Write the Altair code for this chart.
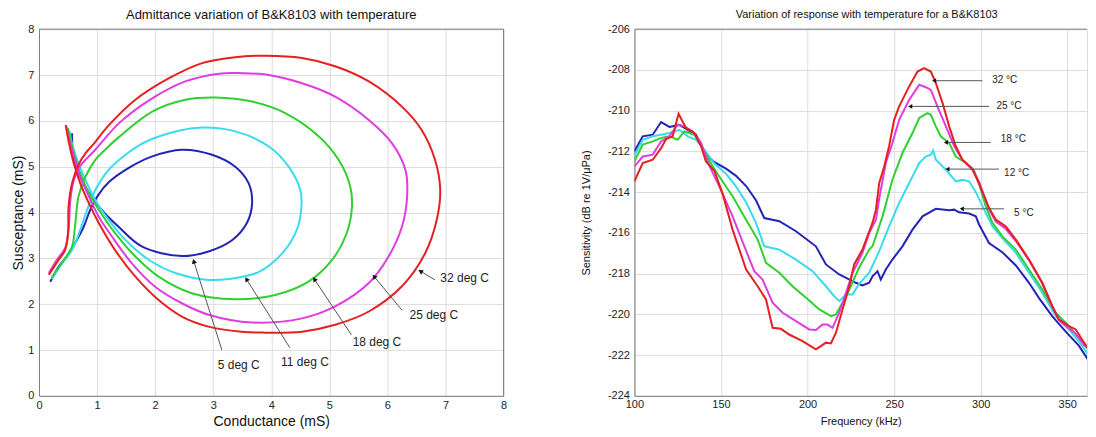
import math
import altair as alt
import pandas as pd

FONT = "Liberation Sans"

# ---------------- Left panel: admittance loops ----------------
left_series = ["5 deg C", "11 deg C", "18 deg C", "25 deg C", "32 deg C"]
left_colors = ["#2323b8", "#38dcef", "#30d030", "#e03ce0", "#e52020"]

g_5 = [0.195, 0.34, 0.48, 0.62, 0.77, 0.88, 1.02, 1.20, 1.54, 1.94, 2.46, 2.98, 3.38, 3.61, 3.67, 3.58, 3.33, 2.92, 2.46, 1.77, 1.37, 1.12, 0.93, 0.78, 0.64, 0.58, 0.57]
b_5 = [2.49, 2.82, 3.04, 3.33, 3.69, 4.05, 4.38, 4.66, 4.97, 5.22, 5.37, 5.26, 5.00, 4.64, 4.20, 3.77, 3.40, 3.15, 3.05, 3.26, 3.69, 4.00, 4.30, 4.60, 5.00, 5.37, 5.73]

g_11 = [0.22, 0.40, 0.57, 0.71, 0.83, 0.97, 1.20, 1.49, 1.80, 2.24, 2.75, 3.38, 3.96, 4.30, 4.50, 4.52, 4.44, 4.19, 3.78, 3.27, 2.92, 2.35, 1.89, 1.49, 1.20, 0.97, 0.80, 0.68, 0.60, 0.55, 0.53]
b_11 = [2.55, 2.89, 3.18, 3.62, 4.06, 4.49, 4.93, 5.26, 5.52, 5.73, 5.85, 5.77, 5.44, 5.00, 4.49, 4.13, 3.62, 3.11, 2.70, 2.55, 2.53, 2.68, 2.97, 3.40, 3.84, 4.27, 4.71, 5.07, 5.37, 5.60, 5.77]

g_18 = [0.22, 0.43, 0.57, 0.62, 0.68, 0.80, 0.97, 1.14, 1.38, 1.95, 2.52, 3.04, 3.67, 4.24, 4.82, 5.16, 5.36, 5.39, 5.30, 5.05, 4.64, 4.07, 3.38, 2.63, 2.06, 1.66, 1.31, 1.03, 0.86, 0.71, 0.62, 0.55, 0.50]
b_18 = [2.59, 2.97, 3.26, 3.69, 4.35, 4.78, 5.15, 5.37, 5.65, 6.20, 6.46, 6.51, 6.42, 6.17, 5.66, 5.15, 4.57, 4.13, 3.55, 2.97, 2.49, 2.20, 2.11, 2.24, 2.60, 3.04, 3.55, 4.06, 4.42, 4.86, 5.22, 5.55, 5.84]

g_25 = [0.17, 0.31, 0.45, 0.51, 0.54, 0.60, 0.70, 0.97, 1.38, 1.95, 2.52, 3.10, 3.50, 3.96, 4.53, 5.10, 5.68, 6.08, 6.31, 6.34, 6.25, 6.02, 5.68, 5.10, 4.53, 3.67, 2.92, 2.46, 2.00, 1.60, 1.26, 1.03, 0.86, 0.71, 0.62, 0.53, 0.47]
b_25 = [2.68, 2.97, 3.22, 3.62, 4.27, 4.71, 5.00, 5.37, 5.95, 6.49, 6.86, 7.03, 7.04, 7.00, 6.82, 6.53, 6.02, 5.51, 4.93, 4.35, 3.69, 3.04, 2.46, 1.95, 1.69, 1.60, 1.77, 2.02, 2.38, 2.89, 3.47, 3.91, 4.35, 4.78, 5.15, 5.55, 5.89]

g_32 = [0.17, 0.34, 0.45, 0.50, 0.51, 0.57, 0.68, 0.80, 0.95, 1.20, 1.66, 2.24, 2.81, 3.38, 3.90, 4.53, 5.10, 5.68, 6.25, 6.59, 6.82, 6.91, 6.85, 6.65, 6.25, 5.68, 5.10, 4.53, 3.84, 3.49, 2.92, 2.46, 2.06, 1.66, 1.31, 1.03, 0.86, 0.71, 0.60, 0.52, 0.46]
b_32 = [2.64, 2.97, 3.18, 3.55, 4.13, 4.64, 5.04, 5.29, 5.51, 5.90, 6.46, 6.93, 7.26, 7.39, 7.42, 7.37, 7.19, 6.86, 6.31, 5.80, 5.15, 4.49, 3.84, 3.11, 2.39, 1.84, 1.55, 1.40, 1.38, 1.40, 1.51, 1.73, 2.09, 2.60, 3.18, 3.77, 4.20, 4.64, 5.07, 5.50, 5.91]

# annotation: label text, label position, arrow tail and tip
left_lab_text = ["32 deg C", "25 deg C", "18 deg C", "11 deg C", "5 deg C"]
left_lab_g = [7.33, 6.80, 5.82, 4.58, 3.44]
left_lab_b = [2.57, 1.77, 1.18, 0.74, 0.68]
left_tail_g = [6.82, 6.25, 5.38, 4.32, 3.15]
left_tail_b = [2.53, 1.87, 1.33, 1.05, 1.00]
left_tip_g = [6.58, 5.78, 4.75, 3.58, 2.67]
left_tip_b = [2.71, 2.59, 2.53, 2.53, 2.92]

left_ticks = [0, 1, 2, 3, 4, 5, 6, 7, 8]

# ---------------- Right panel: sensitivity vs frequency ----------------
right_series = ["5 °C", "12 °C", "18 °C", "25 °C", "32 °C"]
right_colors = ["#2323b8", "#38dcef", "#30d030", "#e03ce0", "#e52020"]

f_5 = [100, 104.8, 110.6, 115.4, 120.2, 126, 130.8, 135.6, 140.4, 145.5, 152.9, 158.7, 164.5, 170.2, 175, 183.7, 193.3, 204.8, 210.6, 218.3, 227.9, 231.7, 235.6, 237.5, 240.4, 242.3, 245.2, 249, 254.8, 260.6, 266.4, 274.1, 281.8, 284.7, 287.5, 293.3, 297.2, 299.1, 304.8, 312.5, 320.3, 327.9, 333.7, 341.4, 349.1, 356.8, 364.5]
s_5 = [-212.0, -211.26, -211.18, -210.56, -210.80, -210.70, -210.94, -211.18, -212.0, -212.49, -212.85, -213.2, -213.7, -214.4, -215.27, -215.43, -215.92, -216.66, -217.55, -218.04, -218.45, -218.58, -218.45, -218.13, -217.88, -218.29, -217.8, -217.31, -216.66, -215.84, -215.19, -214.82, -214.89, -214.86, -214.99, -215.05, -215.19, -215.6, -216.5, -216.95, -217.6, -218.45, -219.2, -220.1, -220.85, -221.55, -222.55]

f_12 = [100, 104.8, 110.6, 115.4, 120.2, 126, 130.8, 135.6, 140.4, 146.2, 152.9, 158.7, 164.5, 170.2, 175, 183.7, 193.3, 202.9, 210.6, 215.4, 218.3, 222.2, 226, 229.8, 235.6, 241.4, 247.1, 252.9, 258.7, 264.5, 268.3, 271.2, 272.5, 274.1, 279.9, 285.6, 289.4, 293.3, 297.2, 302, 306.8, 312.5, 320.3, 327.9, 335.6, 343.3, 351, 358.7, 364.5]
s_12 = [-212.2, -211.43, -211.26, -211.18, -211.1, -210.94, -211.26, -211.43, -211.92, -212.6, -213.1, -213.72, -214.5, -215.51, -216.66, -216.82, -217.31, -217.88, -218.62, -219.11, -219.35, -219.02, -219.02, -218.5, -217.95, -216.9, -215.68, -214.53, -213.55, -212.57, -212.25, -212.16, -211.95, -212.41, -212.9, -213.47, -213.39, -213.47, -214.0, -214.86, -215.68, -216.25, -216.98, -217.96, -218.94, -220.09, -220.74, -221.56, -222.29]

f_18 = [100, 104.8, 110.6, 115.4, 120.2, 125, 128.8, 134.6, 139.5, 145.2, 149, 156.7, 164.5, 171.2, 176, 183.7, 191.3, 199.1, 206.8, 213.5, 216.4, 220.2, 224.1, 229.8, 235.6, 237.5, 243.3, 249, 254.8, 260.6, 264.5, 269.2, 271.2, 274.1, 276.9, 281.8, 285.6, 291.4, 296.2, 299.1, 302.9, 306.8, 312.5, 320.3, 327.9, 335.6, 343.3, 351, 358.7, 364.5]
s_18 = [-212.49, -211.67, -211.51, -211.34, -211.26, -211.43, -211.02, -211.18, -211.84, -212.74, -213.23, -214.2, -215.35, -216.33, -217.47, -217.96, -218.62, -219.19, -219.76, -220.09, -220.0, -219.43, -218.78, -217.7, -216.82, -216.66, -215.19, -213.39, -212.08, -211.1, -210.36, -210.12, -210.2, -210.77, -211.26, -211.59, -212.25, -212.57, -212.95, -213.6, -214.7, -215.51, -216.17, -216.82, -217.8, -218.78, -219.92, -220.58, -221.39, -221.95]

f_25 = [100, 104.8, 110.6, 115.4, 120.2, 125, 128.8, 133.7, 138.5, 143.3, 149, 156.7, 163.5, 169.2, 174, 179.8, 185.6, 193.3, 201, 204.8, 208.7, 211.5, 214.4, 218.3, 222.2, 226, 231.7, 235.6, 239.5, 241.4, 245.2, 249, 252.9, 258.7, 264.5, 268.3, 271.2, 275, 279.9, 284.7, 289.4, 295.2, 299.1, 304.8, 308.7, 314.4, 320.3, 327.9, 335.6, 341.4, 345.2, 351, 354.9, 359.7, 364.5]
s_25 = [-212.74, -212.25, -212.16, -211.51, -211.26, -210.69, -210.77, -211.02, -211.59, -212.7, -213.72, -215.19, -216.66, -217.88, -218.29, -219.43, -219.92, -220.33, -220.74, -220.77, -220.5, -220.5, -220.66, -219.92, -218.94, -217.96, -216.98, -216.0, -215.35, -214.3, -212.57, -211.59, -210.45, -209.47, -208.73, -208.85, -208.98, -209.79, -210.77, -211.75, -212.41, -212.9, -213.5, -214.85, -215.45, -215.8, -216.4, -217.35, -218.5, -219.65, -220.3, -220.7, -220.95, -221.5, -221.8]

f_32 = [100, 104.8, 110.6, 115.4, 118.3, 122.1, 125.5, 129.8, 134.6, 138.5, 141.3, 146.2, 151, 156.7, 164.5, 171.2, 176, 179.8, 184.6, 189.4, 197.1, 204.8, 207.7, 210.6, 213.5, 216.4, 220.2, 224.1, 226.9, 231.7, 237.5, 239.5, 241.4, 244.3, 247.1, 250, 252.9, 258.7, 263.5, 267.3, 271.2, 274.1, 278, 281.8, 285.6, 289.4, 295.2, 299.1, 304.8, 308.7, 314.4, 320.3, 327.9, 335.6, 341.4, 345.2, 351, 354.9, 359.7, 364.5]
s_32 = [-213.47, -212.57, -212.41, -211.84, -211.39, -211.26, -210.15, -210.85, -211.1, -211.75, -212.49, -212.95, -214.1, -215.84, -217.8, -218.62, -219.27, -220.66, -220.71, -220.99, -221.31, -221.72, -221.56, -221.39, -221.43, -220.9, -219.76, -218.62, -217.55, -216.82, -215.51, -214.86, -213.55, -212.73, -211.75, -210.45, -209.79, -208.81, -208.08, -207.91, -208.08, -208.65, -209.63, -210.77, -211.75, -212.41, -212.85, -213.6, -214.77, -215.35, -215.68, -216.33, -217.31, -218.45, -219.6, -220.25, -220.58, -220.74, -221.39, -221.95]

right_lab_text = ["32 °C", "25 °C", "18 °C", "12 °C", "5 °C"]
right_lab_f = [306.6, 309.1, 311.6, 313.5, 319.3]
right_lab_s = [-208.49, -209.76, -211.39, -213.06, -215.02]
right_tail_f = [301.0, 304.8, 305.8, 310.6, 313.5]
right_tip_f = [273.1, 259.3, 279.9, 280.8, 289.1]
right_arrow_s = [-208.53, -209.79, -211.56, -212.87, -214.82]

right_xticks = [100, 150, 200, 250, 300, 350]
right_yticks = [-224, -222, -220, -218, -216, -214, -212, -210, -208, -206]

# ---------------- layout / style ----------------
LW, LH = 465, 367
RW, RH = 453, 367
R_XMAX = 100 + RW / 1.733
GRID = "#dcdcdc"
DOMAIN = "#808080"

# ---------------- build tables ----------------
rows = []
for name, gs, bs in zip(left_series, [g_5, g_11, g_18, g_25, g_32], [b_5, b_11, b_18, b_25, b_32]):
    for i, (g, b) in enumerate(zip(gs, bs)):
        rows.append({"series": name, "idx": i, "G": g, "B": b})
loops = pd.DataFrame(rows)

sx, sy = LW / 8.0, LH / 8.0
larrows = pd.DataFrame({
    "G": left_tail_g, "B": left_tail_b, "G2": left_tip_g, "B2": left_tip_b,
})
larrows["ang"] = [
    math.degrees(math.atan2((tg - g) * sx, (tb - b) * sy)) % 360
    for g, b, tg, tb in zip(left_tail_g, left_tail_b, left_tip_g, left_tip_b)
]
lheads = pd.DataFrame({"G": left_tip_g, "B": left_tip_b, "ang": larrows["ang"]})
llabels = pd.DataFrame({"G": left_lab_g, "B": left_lab_b, "text": left_lab_text})
lbox = pd.DataFrame({"G": [8], "B": [8]})

rows = []
for name, fs, ss in zip(right_series, [f_5, f_12, f_18, f_25, f_32], [s_5, s_12, s_18, s_25, s_32]):
    for i, (f, s) in enumerate(zip(fs, ss)):
        rows.append({"series": name, "idx": i, "F": f, "S": s})
resp = pd.DataFrame(rows)
rarrows = pd.DataFrame({"F": right_tail_f, "F2": right_tip_f, "S": right_arrow_s})
rheads = pd.DataFrame({"F": right_tip_f, "S": right_arrow_s})
rlabels = pd.DataFrame({"F": right_lab_f, "S": right_lab_s, "text": right_lab_text})
rtop = pd.DataFrame({"S": [-206]})

# ---------------- left chart ----------------
lx_scale = alt.Scale(domain=[0, 8], nice=False, zero=False)
ly_scale = alt.Scale(domain=[0, 8], nice=False, zero=False)
lx_axis = alt.Axis(values=left_ticks, title="Conductance (mS)", grid=True, gridColor=GRID,
                   ticks=False, domainColor=DOMAIN, labelFont=FONT, labelFontSize=11,
                   labelColor="#222", labelPadding=4, titleFont=FONT, titleFontSize=14,
                   titleFontWeight="normal", titleColor="#111", titlePadding=4, labelFlush=False)
ly_axis = alt.Axis(values=left_ticks, title="Susceptance (mS)", grid=True, gridColor=GRID,
                   ticks=False, domainColor=DOMAIN, labelFont=FONT, labelFontSize=11,
                   labelColor="#222", labelPadding=5, titleFont=FONT, titleFontSize=14,
                   titleFontWeight="normal", titleColor="#111", titlePadding=2, labelFlush=False)

def LX(field="G"):
    return alt.X(f"{field}:Q", scale=lx_scale, axis=lx_axis, title="Conductance (mS)")

def LY(field="B"):
    return alt.Y(f"{field}:Q", scale=ly_scale, axis=ly_axis, title="Susceptance (mS)")

l_lines = alt.Chart(loops).mark_line(strokeWidth=2, interpolate="catmull-rom").encode(
    x=LX(), y=LY(),
    color=alt.Color("series:N", scale=alt.Scale(domain=left_series, range=left_colors), legend=None),
    order=alt.Order("idx:Q"),
    detail="series:N",
)
l_top = alt.Chart(lbox).mark_rule(color=DOMAIN, strokeWidth=1).encode(y=LY())
l_right = alt.Chart(lbox).mark_rule(color=DOMAIN, strokeWidth=1).encode(x=LX())
l_arrows = alt.Chart(larrows).mark_rule(color="#555555", strokeWidth=1).encode(
    x=LX(), y=LY(), x2="G2:Q", y2="B2:Q")
l_heads = alt.Chart(lheads).mark_point(shape="triangle", filled=True, size=28, color="#111111",
                                       opacity=1).encode(
    x=LX(), y=LY(), angle=alt.Angle("ang:Q", scale=None))
l_text = alt.Chart(llabels).mark_text(font=FONT, fontSize=12, color="#222222", align="center",
                                      baseline="middle").encode(x=LX(), y=LY(), text="text:N")

left = alt.layer(l_lines, l_top, l_right, l_arrows, l_heads, l_text).properties(
    width=LW, height=LH,
    title=alt.TitleParams("Admittance variation of B&K8103 with temperature", font=FONT,
                          fontSize=13, fontWeight="normal", color="#111", offset=1),
)

# ---------------- right chart ----------------
rx_scale = alt.Scale(domain=[100, R_XMAX], nice=False, zero=False)
ry_scale = alt.Scale(domain=[-224, -206], nice=False, zero=False)
rx_axis = alt.Axis(values=right_xticks, title="Frequency (kHz)", grid=True, gridColor=GRID,
                   ticks=False, domainColor=DOMAIN, labelFont=FONT, labelFontSize=11,
                   labelColor="#222", labelPadding=3, titleFont=FONT, titleFontSize=11,
                   titleFontWeight="normal", titleColor="#111", titlePadding=6, labelFlush=False)
ry_axis = alt.Axis(values=right_yticks, title="Sensitivity (dB re 1V/μPa)", grid=True,
                   gridColor=GRID, ticks=False, domainColor=DOMAIN, labelFont=FONT,
                   labelFontSize=11, labelColor="#222", labelPadding=5,
                   labelExpr="'' + datum.value", titleFont=FONT, titleFontSize=11,
                   titleFontWeight="normal", titleColor="#111", titlePadding=16, labelFlush=False)

def RX(field="F"):
    return alt.X(f"{field}:Q", scale=rx_scale, axis=rx_axis, title="Frequency (kHz)")

def RY(field="S"):
    return alt.Y(f"{field}:Q", scale=ry_scale, axis=ry_axis, title="Sensitivity (dB re 1V/μPa)")

r_lines = alt.Chart(resp).mark_line(strokeWidth=2, clip=True).encode(
    x=RX(), y=RY(),
    color=alt.Color("series:N", scale=alt.Scale(domain=right_series, range=right_colors), legend=None),
    order=alt.Order("idx:Q"),
    detail="series:N",
)
r_top = alt.Chart(rtop).mark_rule(color=DOMAIN, strokeWidth=1).encode(y=RY())
r_arrows = alt.Chart(rarrows).mark_rule(color="#555555", strokeWidth=1).encode(
    x=RX(), x2="F2:Q", y=RY())
r_heads = alt.Chart(rheads).mark_point(shape="triangle-left", filled=True, size=22,
                                       color="#111111", opacity=1).encode(x=RX(), y=RY())
r_text = alt.Chart(rlabels).mark_text(font=FONT, fontSize=10, color="#222222", align="left",
                                      baseline="middle").encode(x=RX(), y=RY(), text="text:N")

right = alt.layer(r_lines, r_top, r_arrows, r_heads, r_text).properties(
    width=RW, height=RH,
    title=alt.TitleParams("Variation of response with temperature for a B&K8103", font=FONT,
                          fontSize=11, fontWeight="normal", color="#111", offset=3, dx=6),
)

chart = alt.hconcat(left, right, spacing=72).properties(
    padding={"left": 3, "top": 0, "right": 0, "bottom": 0},
).configure_view(strokeWidth=0).configure(background="white")

chart.save("out.html", embed_options={"renderer": "svg", "actions": False})
